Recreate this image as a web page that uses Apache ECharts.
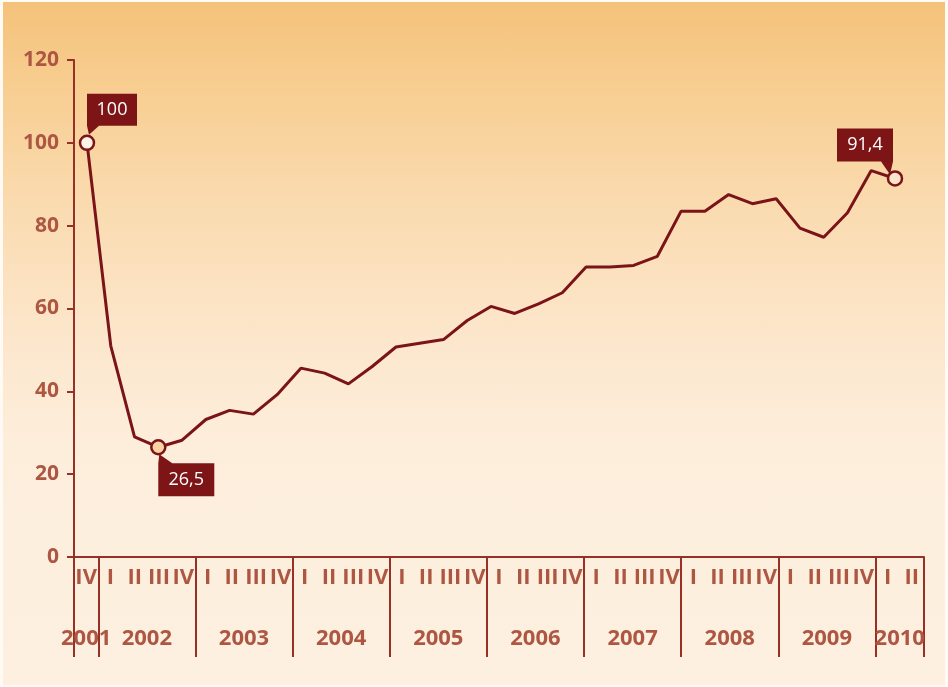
<!DOCTYPE html>
<html lang="ru">
<head>
  <meta charset="UTF-8">
  <title>index</title>
  <style>
  body { margin: 0; background: #fffaf3; }
  #bg {
    position: absolute; left: 3px; top: 2px; width: 942px; height: 683px;
    background: linear-gradient(to bottom, #f4c27a 0%, #f8cf94 14%, #fadbb0 30%, #fce7cd 50%, #fdeedc 66%, #fdf0e0 100%);
  }
  #main { position: absolute; left: 0; top: 0; width: 948px; height: 687px; }
  </style>
  <script src="https://cdn.jsdelivr.net/npm/echarts@6/dist/echarts.min.js"></script>
</head>
<body>
  <div id="bg"></div>
  <div id="main"></div>
  <script>
  // quarters from 2001 IV to 2010 II
  var quarters = ['IV',
    'I', 'II', 'III', 'IV', 'I', 'II', 'III', 'IV', 'I', 'II', 'III', 'IV',
    'I', 'II', 'III', 'IV', 'I', 'II', 'III', 'IV', 'I', 'II', 'III', 'IV',
    'I', 'II', 'III', 'IV', 'I', 'II', 'III', 'IV', 'I', 'II'];
  var years = ['2001', '2002', '2003', '2004', '2005', '2006', '2007', '2008', '2009', '2010'];
  var quartersPerYear = [1, 4, 4, 4, 4, 4, 4, 4, 4, 2];
  var values = [100, 51, 29.0, 26.5, 28.2, 33.2, 35.4, 34.5, 39.2, 45.6, 44.4, 41.8,
    46.0, 50.7, 51.6, 52.5, 57.1, 60.5, 58.8, 61.1, 63.8, 70.0, 70.0, 70.4, 72.6,
    83.5, 83.5, 87.5, 85.3, 86.5, 79.4, 77.2, 83.1, 93.3, 91.4];
  var yTicks = [0, 20, 40, 60, 80, 100, 120];
  // callouts: data index, text, marker fill
  var callouts = [
    { index: 0, text: '100', fill: '#fdf2e4' },
    { index: 3, text: '26,5', fill: '#f9d4a2' },
    { index: 34, text: '91,4', fill: '#fbe6cc' }
  ];

  var axisColor = '#983026';
  var labelColor = '#ad5743';
  var lineColor = '#7b1418';
  var boxColor = '#7d1517';
  var font = '"Open Sans", "Noto Sans", sans-serif';

  // year axis: half-quarter positions, boundaries at even positions
  var yearAxis = [];
  var yearTickIdx = {};
  var yearLabel = {};
  var pos = 0;
  for (var y = 0; y < years.length; y++) {
    yearTickIdx[pos * 2] = true;
    yearLabel[pos * 2 + quartersPerYear[y]] = years[y];
    pos += quartersPerYear[y];
  }
  yearTickIdx[pos * 2] = true;
  for (var k = 0; k <= pos * 2; k++) {
    yearAxis.push(yearLabel[k] || '');
  }

  // callout shapes (box + pointer), relative to the point
  var shapes = [
    { path: 'path://M0,-49 H50 V-17 H12 L2,-8 L0,-17 Z', size: [50, 41], offset: [25, -28.5], labelOffset: [0, -4.5] },
    { path: 'path://M1,7 L14,16 H56 V49 H0 V16 Z', size: [56, 42], offset: [28, 28], labelOffset: [0, 4.5] },
    { path: 'path://M-58,-50 H-2 V-17 L-5,-4 L-14,-17 H-58 Z', size: [56, 46], offset: [-30, -27], labelOffset: [0, -6.5] }
  ];

  var seriesData = values.map(function(v, i) {
    var c = callouts.filter(function(c) { return c.index === i })[0];
    if (!c) return { value: v, symbol: 'none' };
    return {
      value: v,
      symbol: 'circle',
      symbolSize: 14,
      itemStyle: { color: c.fill, borderColor: lineColor, borderWidth: 2.5 }
    };
  });

  var markData = callouts.map(function(c, j) {
    return {
      coord: [c.index, values[c.index]],
      symbol: shapes[j].path,
      symbolSize: shapes[j].size,
      symbolOffset: shapes[j].offset,
      label: { offset: shapes[j].labelOffset, formatter: c.text }
    };
  });

  var chart = echarts.init(document.getElementById('main'));
  chart.setOption({
    animation: false,
    grid: [
      { left: 74, right: 24, top: 60, bottom: 130 },
      { left: 87, right: 53, top: 60, bottom: 130 }
    ],
    xAxis: [
      {
        gridIndex: 0,
        type: 'category',
        position: 'bottom',
        data: quarters,
        boundaryGap: true,
        axisLine: { onZero: false, lineStyle: { color: axisColor, width: 2 } },
        axisTick: { interval: 0, length: 51, lineStyle: { color: axisColor, width: 2 } },
        axisLabel: { interval: 0, margin: 10, color: labelColor, fontSize: 22, fontWeight: 'bold', fontFamily: font }
      },
      {
        gridIndex: 0,
        type: 'category',
        position: 'bottom',
        data: yearAxis,
        boundaryGap: false,
        axisLine: { show: false, onZero: false },
        axisTick: {
          length: 100,
          interval: function(i) { return !!yearTickIdx[i] },
          lineStyle: { color: axisColor, width: 2 }
        },
        axisLabel: {
          margin: 71,
          interval: function(i) { return !!yearLabel[i] },
          color: labelColor, fontSize: 22, fontWeight: 'bold', fontFamily: font
        }
      },
      {
        gridIndex: 1,
        type: 'category',
        data: quarters,
        boundaryGap: false,
        show: false
      }
    ],
    yAxis: [
      {
        gridIndex: 0,
        type: 'value',
        min: yTicks[0],
        max: yTicks[yTicks.length - 1],
        interval: yTicks[1] - yTicks[0],
        splitLine: { show: false },
        axisLine: { show: true, lineStyle: { color: axisColor, width: 2 } },
        axisTick: { show: true, length: 7, lineStyle: { color: axisColor, width: 2 } },
        axisLabel: { margin: 15, color: labelColor, fontSize: 21, fontWeight: 'bold', fontFamily: font }
      },
      {
        gridIndex: 1,
        type: 'value',
        min: yTicks[0],
        max: yTicks[yTicks.length - 1],
        show: false
      }
    ],
    series: [{
      type: 'line',
      xAxisIndex: 2,
      yAxisIndex: 1,
      data: seriesData,
      lineStyle: { color: lineColor, width: 3 },
      itemStyle: { color: lineColor },
      z: 3,
      markPoint: {
        z: 2,
        itemStyle: { color: boxColor },
        label: { show: true, position: 'inside', color: '#ffffff', fontSize: 18, fontFamily: font },
        data: markData
      }
    }]
  });
  </script>
</body>
</html>
